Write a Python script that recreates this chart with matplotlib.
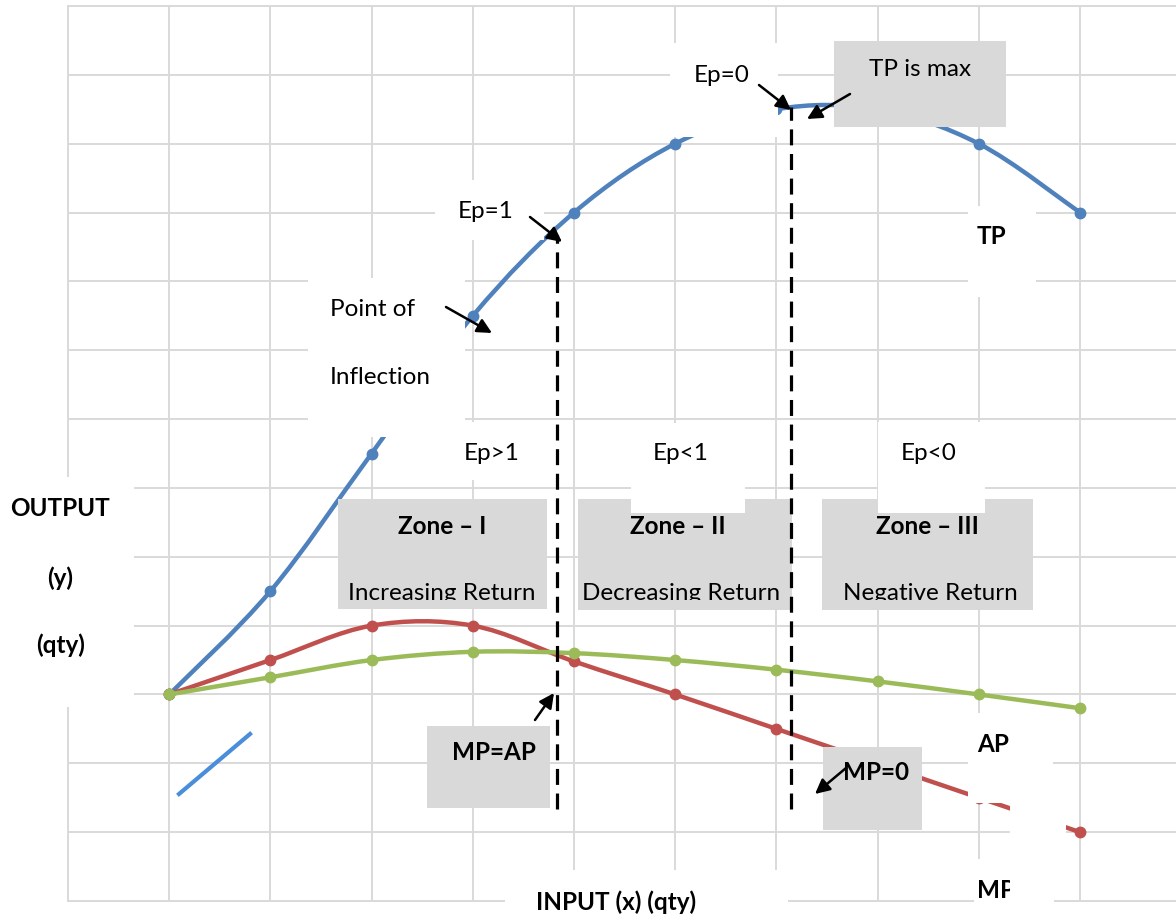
import numpy as np
import matplotlib
matplotlib.use('Agg')
import matplotlib.pyplot as plt
import matplotlib.transforms as mtransforms
from matplotlib.path import Path
from matplotlib.patches import PathPatch, Rectangle

plt.rcParams['font.family'] = ['Lato', 'DejaVu Sans']

# Data
# ---------------------------
inputs = [0, 1, 2, 3, 4, 5, 6, 7, 8, 9]
tp = [0, 1.5, 3.5, 5.5, 7.0, 8.0, 8.5, 8.5, 8.0, 7.0]
mp = [0, 0.5, 1.0, 1.0, 0.48, 0, -0.5, -1.0, -1.5, -2.0]
ap = [0, 0.25, 0.5, 0.62, 0.6, 0.5, 0.36, 0.19, 0, -0.2]

# dashed lines at Ep=1 and Ep=0
ref_x = [3.83, 6.14]
ref_top = [6.67, 8.53]
ref_bottom = -1.66

W, H = 1176, 916
BLUE, RED, GREEN = '#4F81BD', '#C0504D', '#9BBB59'
GRID = '#d9d9d9'
GREY = '#d9d9d9'


def smooth_path(x, y):
    # excel style smoothed line (bezier through the points)
    pts = np.column_stack([x, y]).astype(float)
    n = len(pts)
    verts = [pts[0]]
    codes = [Path.MOVETO]
    for i in range(n - 1):
        p0 = pts[max(i - 1, 0)]
        p1 = pts[i]
        p2 = pts[i + 1]
        p3 = pts[min(i + 2, n - 1)]
        verts += [p1 + (p2 - p0) / 6, p2 - (p3 - p1) / 6, p2]
        codes += [Path.CURVE4] * 3
    return Path(verts, codes)


fig = plt.figure(figsize=(W / 100, H / 100), dpi=100)
# pixel coordinates of the picture (origin top left)
px = mtransforms.Affine2D().scale(1 / W, -1 / H).translate(0, 1) + fig.transFigure

ax = fig.add_axes([68 / W, (H - 901) / H, (W - 68) / W, (901 - 6) / H])
ax.set_xlim(-1, -1 + (W - 68) / 101.2)
ax.set_ylim(-3, 10)
ax.set_xticks(range(0, 10))
ax.set_yticks(range(-2, 10))
ax.grid(True, color=GRID, lw=1.4)
ax.tick_params(length=0, labelbottom=False, labelleft=False)
for side in ['left', 'top', 'bottom']:
    ax.spines[side].set_color(GRID)
    ax.spines[side].set_linewidth(1.4)
ax.spines['right'].set_visible(False)

# Curves
for vals, col in [(tp, BLUE), (mp, RED), (ap, GREEN)]:
    ax.add_patch(PathPatch(smooth_path(inputs, vals), fill=False,
                           edgecolor=col, lw=3.2, zorder=3, capstyle='round'))
    ax.plot(inputs, vals, 'o', color=col, ms=7.5, zorder=3)

# Dashed lines
for xv, top in zip(ref_x, ref_top):
    ax.vlines(xv, ref_bottom, top, colors='black', lw=2.3,
              linestyles=(0, (5, 2.7)), zorder=6)

# stray legend key
ax.plot([179, 250], [794, 734], color='#4a8edb', lw=3, transform=px,
        clip_on=False, zorder=3)

# Boxes (x0, y0, x1, y1 in picture pixels)
white_boxes = [
    (435, 180, 544, 240), (308, 278, 465, 437), (670, 43, 778, 137),
    (968, 206, 1036, 297), (430, 422, 555, 480), (631, 423, 745, 513),
    (878, 422, 985, 513), (968, 713, 1053, 803), (1010, 795, 1066, 840),
    (974, 859, 1054, 916), (0, 477, 134, 707), (505, 870, 788, 916),
]
grey_boxes = {
    'tpmax': (834, 41, 1006, 127),
    'zone1': (338, 499, 547, 609),
    'zone2': (578, 499, 792, 610),
    'zone3': (822, 499, 1033, 610),
    'mpap': (427, 726, 550, 808),
    'mp0': (823, 747, 922, 830),
}


def box(b, color, z):
    r = Rectangle((b[0], b[1]), b[2] - b[0], b[3] - b[1], transform=px,
                  facecolor=color, edgecolor='none', clip_on=False, zorder=z)
    ax.add_patch(r)
    return r


for b in white_boxes:
    box(b, 'white', 5)
for b in grey_boxes.values():
    box(b, GREY, 4)

# Arrows
arrows = [
    ((530, 217), (562, 242)), ((446, 307), (492, 333)),
    ((759, 85), (791, 110)), ((850, 94), (807, 119)),
    ((535, 720), (554, 693)), ((846, 768), (815, 794)),
]
for start, end in arrows:
    ax.annotate('', xy=end, xytext=start, xycoords=px, textcoords=px,
                annotation_clip=False, zorder=7,
                arrowprops=dict(arrowstyle='-|>', color='black', lw=1.8,
                                mutation_scale=22, shrinkA=0, shrinkB=0))

# Labels
FS = 17.5


def label(s, x, y, bold=False, ha='center', va='center', clip=None):
    t = fig.text(x, y, s, transform=px, ha=ha, va=va, fontsize=FS,
                 fontweight='bold' if bold else 'normal', color='black')
    if clip is not None:
        t.set_clip_path(Rectangle((clip[0], clip[1]), clip[2] - clip[0],
                                  clip[3] - clip[1], transform=px))
        t.set_clip_on(True)
    return t


label('Ep=1', 486, 211)
label('Point of', 330, 309, ha='left')
label('Inflection', 330, 377, ha='left')
label('Ep=0', 722, 75)
label('TP is max', 920, 70)
label('TP', 991, 237, bold=True)
label('Ep>1', 492, 453)
label('Ep<1', 681, 453)
label('Ep<0', 929, 453)
label('Zone \u2013 I', 442, 527, bold=True)
label('Zone \u2013 II', 678, 527, bold=True)
label('Zone \u2013 III', 927, 527, bold=True)

# return texts are cut off at the inner edge of the zone boxes
label('Increasing Return', 442, 600, va='baseline', clip=(338, 499, 547, 600))
label('Decreasing Return', 681, 600, va='baseline', clip=(578, 499, 792, 600))
label('Negative Return', 930, 600, va='baseline', clip=(822, 499, 1033, 600))

label('MP=AP', 494, 753, bold=True)
label('MP=0', 876, 773, bold=True)
label('AP', 977, 745, bold=True, ha='left', clip=(968, 700, 1010, 820))
label('MP', 977, 890, bold=True, ha='left', clip=(968, 850, 1010, 930))

label('OUTPUT', 60, 509, bold=True)
label('(y)', 60, 578, bold=True)
label('(qty)', 61, 645, bold=True)
label('INPUT (x) (qty)', 616, 902, bold=True)

fig.savefig('out.png', dpi=100)
